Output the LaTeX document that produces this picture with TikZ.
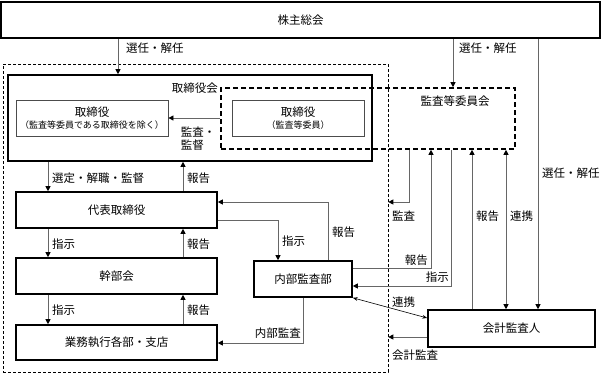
\documentclass[tikz,border=0pt]{standalone}
\usepackage{fontspec}
\setmainfont{Noto Sans CJK JP}
\usetikzlibrary{arrows.meta, positioning}

\begin{document}
\begin{tikzpicture}[x=1pt, y=-1pt,
  font=\fontsize{11.5}{13}\selectfont,
  box/.style n args={2}{draw, line width=1.6pt, minimum width=#1pt, minimum height=#2pt, inner sep=0pt},
  inbox/.style n args={2}{draw=black!70, line width=0.8pt, minimum width=#1pt, minimum height=#2pt, inner sep=0pt, align=center},
  thindash/.style={draw, line width=0.6pt, dash pattern=on 3pt off 2pt},
  heavydash/.style={draw, line width=1.6pt, dash pattern=on 5pt off 3pt},
  line/.style={draw=black!60, line width=0.8pt},
  arr/.style={line, -{Triangle[length=5pt, width=5pt, color=black]}},
  dbl/.style={line, {Triangle[length=5pt, width=5pt, color=black]}-{Triangle[length=5pt, width=5pt, color=black]}},
  lbl/.style={inner sep=0pt},
  small/.style={font=\fontsize{9}{11}\selectfont},
]
  \useasboundingbox (0,0) rectangle (602,373);
  % regions
  \node[thindash, minimum width=385pt, minimum height=308pt] (shanai) at (195.5,218) {};
  \node[box={364}{86}] (torikai) at (190,118) {};
  \node[lbl, anchor=east] (torikaiLbl) at (218,88) {取締役会};
  \node[heavydash, minimum width=294pt, minimum height=61pt] (iinkai) at (368,118.5) {};
  \node[lbl] (iinkaiLbl) at (455,101) {監査等委員会};
  % boxes
  \node[box={599}{36}] (soukai) at (300.5,20) {株主総会};
  \node[inbox={152}{36}] (tori1) at (92,118) {取締役\\[-1pt]{\small（監査等委員である取締役を除く）}};
  \node[inbox={132}{36}] (tori2) at (298,118) {取締役\\[-1pt]{\small（監査等委員）}};
  \node[box={201}{36}] (daihyo) at (116.5,210) {代表取締役};
  \node[box={201}{36}] (kanbu) at (116.5,276) {幹部会};
  \node[box={201}{35}] (gyomu) at (116.5,342.5) {業務執行各部・支店};
  \node[box={98}{36}] (naibu) at (303,279) {内部監査部};
  \node[box={167}{37}] (kaikei) at (511.5,328.5) {会計監査人};

  % shareholders
  \draw[arr] (118,0 |- soukai.south) -- (118,0 |- torikai.north);
  \node[lbl, anchor=west] (senninA) at (126,48) {選任・解任};
  \draw[arr] (453,0 |- soukai.south) -- (453,0 |- iinkai.north);
  \node[lbl, anchor=west] (senninB) at (459,48) {選任・解任};
  \draw[arr] (538,0 |- soukai.south) -- (538,0 |- kaikei.north);
  \node[lbl, anchor=west] (senninC) at (542,173) {選任・解任};

  % board
  \draw[arr] (iinkai.west |- 0,118) -- (tori1.east |- 0,118);
  \node[lbl, align=left] (kansaLbl) at (198,139) {監査・\\監督};
  \draw[arr] (48,0 |- torikai.south) -- (48,0 |- daihyo.north);
  \node[lbl, anchor=west] (senteiLbl) at (52,178) {選定・解職・監督};
  \draw[arr] (183,0 |- daihyo.north) -- (183,0 |- torikai.south);
  \node[lbl, anchor=west] (houkoku1) at (187,178) {報告};

  % line
  \draw[arr] (48,0 |- daihyo.south) -- (48,0 |- kanbu.north);
  \node[lbl, anchor=west] (shiji1) at (52,244) {指示};
  \draw[arr] (183,0 |- kanbu.north) -- (183,0 |- daihyo.south);
  \node[lbl, anchor=west] (houkoku2) at (187,244) {報告};
  \draw[arr] (48,0 |- kanbu.south) -- (48,0 |- gyomu.north);
  \node[lbl, anchor=west] (shiji2) at (52,310) {指示};
  \draw[arr] (183,0 |- gyomu.north) -- (183,0 |- kanbu.south);
  \node[lbl, anchor=west] (houkoku3) at (187,310) {報告};

  % internal audit
  \draw[arr] (daihyo.east |- 0,220) -| (278,0 |- naibu.north);
  \node[lbl, anchor=west] (shiji3) at (282,241) {指示};
  \draw[arr] (328,0 |- naibu.north) |- (daihyo.east |- 0,202);
  \node[lbl, anchor=west] (houkoku4) at (332,232) {報告};
  \draw[arr] (naibu.south) |- (gyomu.east |- 0,343);
  \node[lbl, anchor=east] (naibuKansa) at (301,333) {内部監査};
  \draw[arr] (naibu.east |- 0,268) -| (431,0 |- iinkai.south);
  \node[lbl, anchor=east] (houkoku5) at (428,260) {報告};
  \draw[arr] (451,0 |- iinkai.south) |- (naibu.east |- 0,286);
  \node[lbl, anchor=east] (shiji4) at (449,277) {指示};

  % audit committee
  \draw[arr] (409,0 |- iinkai.south) |- (shanai.east |- 0,202);
  \node[lbl, anchor=west] (kansa1) at (392,216) {監査};
  \draw[arr] (472,0 |- kaikei.north) -- (472,0 |- iinkai.south);
  \node[lbl, anchor=west] (houkoku6) at (476,216) {報告};
  \draw[dbl] (506,0 |- iinkai.south) -- (506,0 |- kaikei.north);
  \node[lbl, anchor=west] (renkei1) at (510,216) {連携};

  % accounting auditor
  \draw[{Stealth[length=5pt]}-{Stealth[length=5pt]}, line width=0.6pt] (naibu.south east) -- (kaikei.west |- 0,318);
  \node[lbl, anchor=west] (renkei2) at (392,302) {連携};
  \draw[arr] (kaikei.west |- 0,337) -- (shanai.east |- 0,337);
  \node[lbl, anchor=west] (kaikeiKansa) at (392,355) {会計監査};
\end{tikzpicture}
\end{document}
